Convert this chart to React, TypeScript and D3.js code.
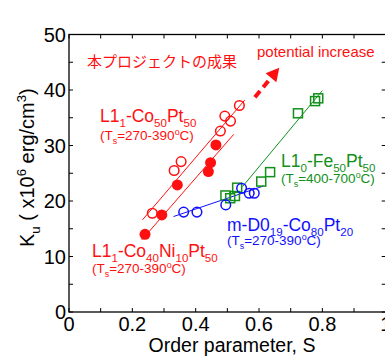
import React from 'react';
import * as d3 from 'd3';

// values
const coPtX = [0.263, 0.332, 0.354, 0.478, 0.492, 0.51, 0.538];
const coPtY = [17.8, 25.5, 27.1, 32.6, 35.3, 34.4, 37.2];
const coNiPtX = [0.24, 0.293, 0.342, 0.44, 0.447, 0.464];
const coNiPtY = [14.0, 17.5, 22.9, 25.3, 26.9, 30.1];
const d019X = [0.362, 0.404, 0.495, 0.545, 0.569, 0.585];
const d019Y = [18.0, 18.0, 19.3, 22.3, 21.4, 21.4];
const fePtX = [0.494, 0.509, 0.524, 0.531, 0.607, 0.635, 0.723, 0.777, 0.787];
const fePtY = [21.0, 20.5, 20.9, 22.4, 23.5, 25.2, 35.8, 38.0, 38.5];

// fit line end points
const coPtFit = [[0.232, 16.6], [0.555, 38.2]];
const coNiPtFit = [[0.23, 13.0], [0.52, 32.0]];
const d019Fit = [[0.33, 17.2], [0.614, 22.7]];
const fePtFit = [[0.548, 22.6], [0.8, 39.9]];
const arrowPts = [[0.587, 38.7], [0.664, 44.0]];

const xTicks = [0, 0.2, 0.4, 0.6, 0.8, 1];
const xLabels = ['0', '0.2', '0.4', '0.6', '0.8', '1'];
const yTicks = [0, 10, 20, 30, 40, 50];

const RED = '#ff1010';
const GREEN = '#11901a';
const BLUE = '#1010ff';
const FONT = '"Liberation Sans", Arial, sans-serif';

type Seg = { t: string; s?: 'sub' | 'sup' };

const Rich = ({ x, y, segs, size, fill, transform }: { x: number; y: number; segs: Seg[]; size: number; fill: string; transform?: string }) => {
  let cur = 0;
  return (
    <text x={x} y={y} fontSize={size} fill={fill} fontFamily={FONT} transform={transform}>
      {segs.map((s, i) => {
        const target = s.s === 'sub' ? size * 0.3 : s.s === 'sup' ? -size * 0.4 : 0;
        const dy = target - cur;
        cur = target;
        return (
          <tspan key={i} dy={dy} fontSize={s.s ? size * 0.66 : size}>{s.t}</tspan>
        );
      })}
    </text>
  );
};

export default function App() {
  const W = 385, H = 358;
  const x = d3.scaleLinear().domain([0, 1]).range([69, 385.7]);
  const y = d3.scaleLinear().domain([0, 50]).range([312, 34.5]);
  const line = d3.line<number[]>().x(d => x(d[0])).y(d => y(d[1]));

  const minorX = d3.range(0, 1.01, 0.1);
  const minorY = d3.range(0, 50.1, 5);
  const tl = 4;

  const a0 = arrowPts[0], a1 = arrowPts[1];
  const ax0 = x(a0[0]), ay0 = y(a0[1]), ax1 = x(a1[0]), ay1 = y(a1[1]);
  const ang = Math.atan2(ay1 - ay0, ax1 - ax0);
  const hl = 13, hw = 7;
  const bx = ax1 - hl * Math.cos(ang), by = ay1 - hl * Math.sin(ang);
  const head = [
    [ax1, ay1],
    [bx + hw * Math.sin(ang), by - hw * Math.cos(ang)],
    [bx - hw * Math.sin(ang), by + hw * Math.cos(ang)],
  ];

  return (
    <svg width={W} height={H} style={{ position: 'absolute', left: 0, top: 0 }}>
      <rect width={W} height={H} fill="#fff" />
      {/* ticks */}
      {minorX.map((t, i) => (
        <g key={'tx' + i} stroke="#000" strokeWidth={1}>
          <line x1={x(t)} x2={x(t)} y1={y(0)} y2={y(0) - tl} />
          <line x1={x(t)} x2={x(t)} y1={y(50)} y2={y(50) + tl} />
        </g>
      ))}
      {minorY.map((t, i) => (
        <g key={'ty' + i} stroke="#000" strokeWidth={1}>
          <line x1={x(0)} x2={x(0) + tl} y1={y(t)} y2={y(t)} />
          <line x1={x(1)} x2={x(1) - tl} y1={y(t)} y2={y(t)} />
        </g>
      ))}
      <rect x={x(0)} y={y(50)} width={x(1) - x(0)} height={y(0) - y(50)} fill="none" stroke="#000" strokeWidth={1.3} />
      {xTicks.map((t, i) => (
        <text key={'xl' + i} x={x(t)} y={331} fontSize={20} fontFamily={FONT} textAnchor="middle">{xLabels[i]}</text>
      ))}
      {yTicks.map((t, i) => (
        <text key={'yl' + i} x={66} y={y(t) + 7} fontSize={20} fontFamily={FONT} textAnchor="end">{t}</text>
      ))}
      <text x={232} y={352} fontSize={19.5} fontFamily={FONT} textAnchor="middle">Order parameter, S</text>
      <Rich x={0} y={0} size={20} fill="#000" transform="translate(34,247) rotate(-90)"
        segs={[{ t: 'K' }, { t: 'u', s: 'sub' }, { t: ' ( x10' }, { t: '6', s: 'sup' }, { t: ' erg/cm' }, { t: '3', s: 'sup' }, { t: ')' }]} />

      {/* fit lines */}
      <path d={line(coPtFit) || ''} stroke={RED} strokeWidth={1} fill="none" />
      <path d={line(coNiPtFit) || ''} stroke={RED} strokeWidth={1} fill="none" />
      <path d={line(d019Fit) || ''} stroke={BLUE} strokeWidth={1} fill="none" />
      <path d={line(fePtFit) || ''} stroke={GREEN} strokeWidth={1} fill="none" />

      {/* markers */}
      {fePtX.map((v, i) => (
        <rect key={'g' + i} x={x(v) - 4.5} y={y(fePtY[i]) - 4.5} width={9} height={9} fill="none" stroke={GREEN} strokeWidth={1.5} />
      ))}
      {d019X.map((v, i) => (
        <circle key={'b' + i} cx={x(v)} cy={y(d019Y[i])} r={4.8} fill="none" stroke={BLUE} strokeWidth={1.5} />
      ))}
      {coPtX.map((v, i) => (
        <circle key={'r' + i} cx={x(v)} cy={y(coPtY[i])} r={4.8} fill="none" stroke={RED} strokeWidth={1.5} />
      ))}
      {coNiPtX.map((v, i) => (
        <circle key={'f' + i} cx={x(v)} cy={y(coNiPtY[i])} r={5.5} fill={RED} />
      ))}

      {/* arrow */}
      <line x1={ax0} y1={ay0} x2={bx} y2={by} stroke={RED} strokeWidth={4} strokeDasharray="8 5" />
      <path d={'M' + head.map(p => p.join(',')).join('L') + 'Z'} fill={RED} />

      {/* annotations */}
      <text x={87} y={67} fontSize={15} fill={RED} fontFamily='"Noto Sans CJK JP", sans-serif'>本プロジェクトの成果</text>
      <text x={257} y={57} fontSize={15} fill={RED} fontFamily={FONT}>potential increase</text>

      <Rich x={100} y={122} size={17.5} fill={RED}
        segs={[{ t: 'L1' }, { t: '1', s: 'sub' }, { t: '-Co' }, { t: '50', s: 'sub' }, { t: 'Pt' }, { t: '50', s: 'sub' }]} />
      <Rich x={100} y={140} size={13.5} fill={RED}
        segs={[{ t: '(T' }, { t: 's', s: 'sub' }, { t: '=270-390' }, { t: 'o', s: 'sup' }, { t: 'C)' }]} />

      <Rich x={92} y={257} size={17.5} fill={RED}
        segs={[{ t: 'L1' }, { t: '1', s: 'sub' }, { t: '-Co' }, { t: '40', s: 'sub' }, { t: 'Ni' }, { t: '10', s: 'sub' }, { t: 'Pt' }, { t: '50', s: 'sub' }]} />
      <Rich x={92} y={273} size={13.5} fill={RED}
        segs={[{ t: '(T' }, { t: 's', s: 'sub' }, { t: '=270-390' }, { t: 'o', s: 'sup' }, { t: 'C)' }]} />

      <Rich x={281} y={167} size={17.5} fill={GREEN}
        segs={[{ t: 'L1' }, { t: '0', s: 'sub' }, { t: '-Fe' }, { t: '50', s: 'sub' }, { t: 'Pt' }, { t: '50', s: 'sub' }]} />
      <Rich x={281} y={183} size={13.5} fill={GREEN}
        segs={[{ t: '(T' }, { t: 's', s: 'sub' }, { t: '=400-700' }, { t: 'o', s: 'sup' }, { t: 'C)' }]} />

      <Rich x={227} y={231} size={17.5} fill={BLUE}
        segs={[{ t: 'm-D0' }, { t: '19', s: 'sub' }, { t: '-Co' }, { t: '80', s: 'sub' }, { t: 'Pt' }, { t: '20', s: 'sub' }]} />
      <Rich x={227} y={245} size={13.5} fill={BLUE}
        segs={[{ t: '(T' }, { t: 's', s: 'sub' }, { t: '=270-390' }, { t: 'o', s: 'sup' }, { t: 'C)' }]} />
    </svg>
  );
}
